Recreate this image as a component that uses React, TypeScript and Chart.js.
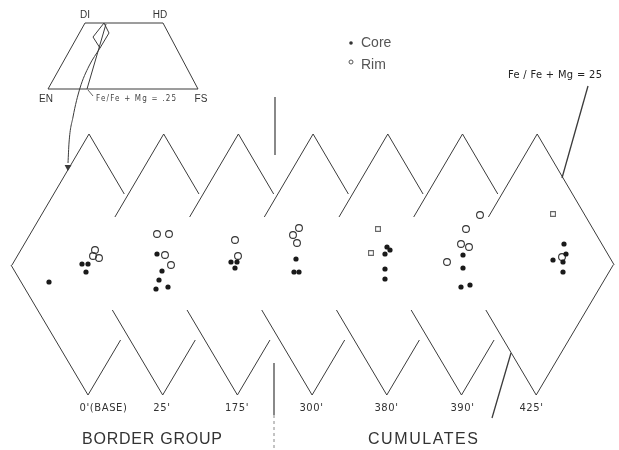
import React, { useEffect, useRef } from "react";
import { Chart, registerables } from "chart.js";
Chart.register(...registerables);

// ---- categories / labels ----
const depths = ["0'(BASE)", "25'", "175'", "300'", "380'", "390'", "425'"];
const groupLabels = ["BORDER GROUP", "CUMULATES"];
const insetCorners = ["DI", "HD", "EN", "FS"];
const insetNote = "Fe/Fe + Mg = .25";
const tieNote = "Fe / Fe + Mg = 25";
const legendLabels = ["Core", "Rim"];

// ---- compositions (plot units), one list per depth ----
const coreByDepth: number[][][] = [
  [[49, 282], [82, 264], [88, 264], [86, 272]],
  [[157, 254], [162, 271], [159, 280], [156, 289], [168, 287]],
  [[231, 262], [237, 262], [235, 268]],
  [[296, 259], [294, 272], [299, 272]],
  [[387, 247], [390, 250], [385, 254], [385, 269], [385, 279]],
  [[463, 255], [463, 268], [461, 287], [470, 285]],
  [[564, 244], [566, 254], [553, 260], [563, 262], [563, 272]],
];
const rimByDepth: number[][][] = [
  [[95, 250], [93, 256], [99, 258]],
  [[157, 234], [169, 234], [165, 255], [171, 265]],
  [[235, 240], [238, 256]],
  [[299, 228], [293, 235], [297, 243]],
  [],
  [[480, 215], [466, 229], [461, 244], [469, 247], [447, 262]],
  [[562, 257]],
];
const rimSquareByDepth: number[][][] = [
  [], [], [], [],
  [[378, 229], [371, 253]],
  [],
  [[553, 214]],
];

// ---- inset quadrilateral and guide lines (plot units) ----
const insetTrapezoid = [[85, 23], [163, 23], [198, 89], [48, 89], [85, 23]];
const insetDiamond = [[104, 23], [109, 33], [100, 48], [93, 37], [104, 23]];
const insetTieLine = [[106, 24], [87, 89]];
const insetPointer = [[93, 96], [88, 90]];
const curvedArrow = [[100, 48], [89, 66], [80, 88], [73, 117], [69, 143], [68, 163]];
const arrowTip = [[68, 167]];
const tieLineUpper = [[588, 86], [562, 178]];
const tieLineLower = [[511, 353], [492, 418]];
const dividerSolid = [[[275, 97], [275, 155]], [[274, 363], [274, 415]]];
const dividerDashed = [[274, 415], [274, 450]];

// diamond layout
const W = 619, H = 450;
const TOP_Y = 134, MID_Y = 265, BOT_Y = 395;
const PEAK0 = 89, STEP = 74.7, HALF = 77;

function diamondSegments(): number[][][] {
  const segs: number[][][] = [];
  const n = depths.length;
  for (let i = 0; i < n; i++) {
    const c = PEAK0 + i * STEP;
    const b = c - 1;
    const fx = (y0: number, x0: number, dir: number, y: number, h: number) => x0 + dir * HALF * Math.abs(y - y0) / h;
    const tlEnd = i === 0 ? MID_Y : 217;
    segs.push([[c, TOP_Y], [fx(TOP_Y, c, -1, tlEnd, MID_Y - TOP_Y), tlEnd]]);
    const trEnd = i === n - 1 ? MID_Y : 194;
    segs.push([[c, TOP_Y], [fx(TOP_Y, c, 1, trEnd, MID_Y - TOP_Y), trEnd]]);
    const blStart = i === 0 ? MID_Y : 310;
    segs.push([[fx(BOT_Y, b, -1, blStart, BOT_Y - MID_Y), blStart], [b, BOT_Y]]);
    const brEnd = i === n - 1 ? MID_Y : 340;
    segs.push([[b, BOT_Y], [fx(BOT_Y, b, 1, brEnd, BOT_Y - MID_Y), brEnd]]);
  }
  return segs;
}

function joinSegments(segs: number[][][]) {
  const out: any[] = [];
  segs.forEach((s) => {
    s.forEach(([x, y]) => out.push({ x, y }));
    out.push({ x: s[s.length - 1][0], y: null });
  });
  return out;
}
const pts = (a: number[][]) => a.map(([x, y]) => ({ x, y }));

const LINE = "#3b3b3b";

const textPlugin = {
  id: "figText",
  afterDatasetsDraw(chart: any) {
    const { ctx } = chart;
    const sx = chart.scales.x, sy = chart.scales.y;
    const px = (v: number) => sx.getPixelForValue(v);
    const py = (v: number) => sy.getPixelForValue(v);
    const put = (text: string, x: number, y: number, font: string, color: string, align: string, ls = 0) => {
      ctx.save();
      ctx.font = font;
      ctx.fillStyle = color;
      ctx.textBaseline = "middle";
      ctx.textAlign = align;
      (ctx as any).letterSpacing = ls + "px";
      ctx.fillText(text, x, y);
      ctx.restore();
    };
    const fit = (text: string, x: number, y: number, width: number, font: string, color: string) => {
      ctx.save();
      ctx.font = font;
      const w = ctx.measureText(text).width;
      ctx.restore();
      const ls = Math.max(0, (width - w) / Math.max(1, text.length - 1));
      put(text, x, y, font, color, "left", ls);
    };
    const sans = "'Liberation Sans', sans-serif";
    put(insetCorners[0], px(85), py(15), "10px " + sans, "#333", "center");
    put(insetCorners[1], px(160), py(15), "10px " + sans, "#333", "center");
    put(insetCorners[2], px(46), py(99), "10px " + sans, "#333", "center");
    put(insetCorners[3], px(201), py(99), "10px " + sans, "#333", "center");
    fit(insetNote, px(96), py(99), 80, "8px 'DejaVu Sans Condensed', 'DejaVu Sans', sans-serif", "#444");
    // legend
    ctx.save();
    ctx.fillStyle = "#333";
    ctx.beginPath();
    ctx.arc(px(351), py(43), 1.8, 0, Math.PI * 2);
    ctx.fill();
    ctx.strokeStyle = "#555";
    ctx.lineWidth = 1;
    ctx.beginPath();
    ctx.arc(px(351), py(62), 2, 0, Math.PI * 2);
    ctx.stroke();
    ctx.restore();
    put(legendLabels[0], px(361), py(43), "14px " + sans, "#555", "left");
    put(legendLabels[1], px(361), py(65), "14px " + sans, "#555", "left");
    fit(tieNote, px(508), py(75), 94, "11px 'DejaVu Sans Condensed', 'DejaVu Sans', sans-serif", "#222");
    // depth labels
    const depthCenter = [103.5, 162, 237, 311.5, 386.5, 462.5, 531.5];
    depths.forEach((d, i) => {
      put(d, px(depthCenter[i]), py(408), "10px 'DejaVu Sans', sans-serif", "#333", "center", 0.6);
    });
    fit(groupLabels[0], px(82), py(440), 140, "16px " + sans, "#333");
    fit(groupLabels[1], px(368), py(440), 110, "16px " + sans, "#333");
  },
};

export default function App() {
  const ref = useRef<HTMLCanvasElement | null>(null);
  useEffect(() => {
    if (!ref.current) return;
    const lineDs = (data: any[], extra: any = {}) => ({
      type: "scatter",
      data,
      showLine: true,
      spanGaps: false,
      borderColor: LINE,
      borderWidth: 1,
      pointRadius: 0,
      fill: false,
      clip: false,
      ...extra,
    });
    const core = coreByDepth.flat();
    const rim = rimByDepth.flat();
    const rimSq = rimSquareByDepth.flat();
    const chart = new Chart(ref.current, {
      type: "scatter",
      data: {
        datasets: [
          lineDs(joinSegments(diamondSegments())),
          lineDs(pts(insetTrapezoid)),
          lineDs(pts(insetDiamond)),
          lineDs(pts(insetTieLine)),
          lineDs(pts(insetPointer), { borderWidth: 0.8 }),
          lineDs(pts(curvedArrow), { tension: 0.4, cubicInterpolationMode: "monotone" }),
          lineDs(pts(tieLineUpper), { borderWidth: 1.3 }),
          lineDs(pts(tieLineLower), { borderWidth: 1.3 }),
          lineDs(joinSegments(dividerSolid), { borderWidth: 1.2 }),
          lineDs(pts(dividerDashed), { borderDash: [3, 3], borderColor: "#888" }),
          {
            type: "scatter",
            data: pts(arrowTip),
            pointStyle: "triangle",
            rotation: 182,
            pointRadius: 4,
            backgroundColor: LINE,
            borderColor: LINE,
            borderWidth: 0,
            clip: false,
          },
          {
            type: "scatter",
            label: legendLabels[0],
            data: pts(core),
            pointStyle: "circle",
            pointRadius: 2.6,
            backgroundColor: "#1a1a1a",
            borderColor: "#1a1a1a",
            borderWidth: 0,
            clip: false,
          },
          {
            type: "scatter",
            label: legendLabels[1],
            data: pts(rim),
            pointStyle: "circle",
            pointRadius: 3.4,
            backgroundColor: "rgba(255,255,255,0)",
            borderColor: "#333",
            borderWidth: 1.1,
            clip: false,
          },
          {
            type: "scatter",
            label: legendLabels[1] + " ",
            data: pts(rimSq),
            pointStyle: "rect",
            pointRadius: 3.4,
            backgroundColor: "rgba(255,255,255,0)",
            borderColor: "#666",
            borderWidth: 1.1,
            clip: false,
          },
        ] as any,
      },
      options: {
        responsive: false,
        maintainAspectRatio: false,
        animation: false,
        events: [],
        layout: { padding: 0, autoPadding: false },
        scales: {
          x: { type: "linear", min: 0, max: W, display: false },
          y: { type: "linear", min: 0, max: H, reverse: true, display: false },
        },
        plugins: { legend: { display: false }, tooltip: { enabled: false } },
      },
      plugins: [textPlugin],
    } as any);
    return () => chart.destroy();
  }, []);
  return (
    <div style={{ position: "fixed", left: 0, top: 0, width: W, height: H, background: "#fff" }}>
      <canvas ref={ref} width={W} height={H} style={{ width: W, height: H }} />
    </div>
  );
}
